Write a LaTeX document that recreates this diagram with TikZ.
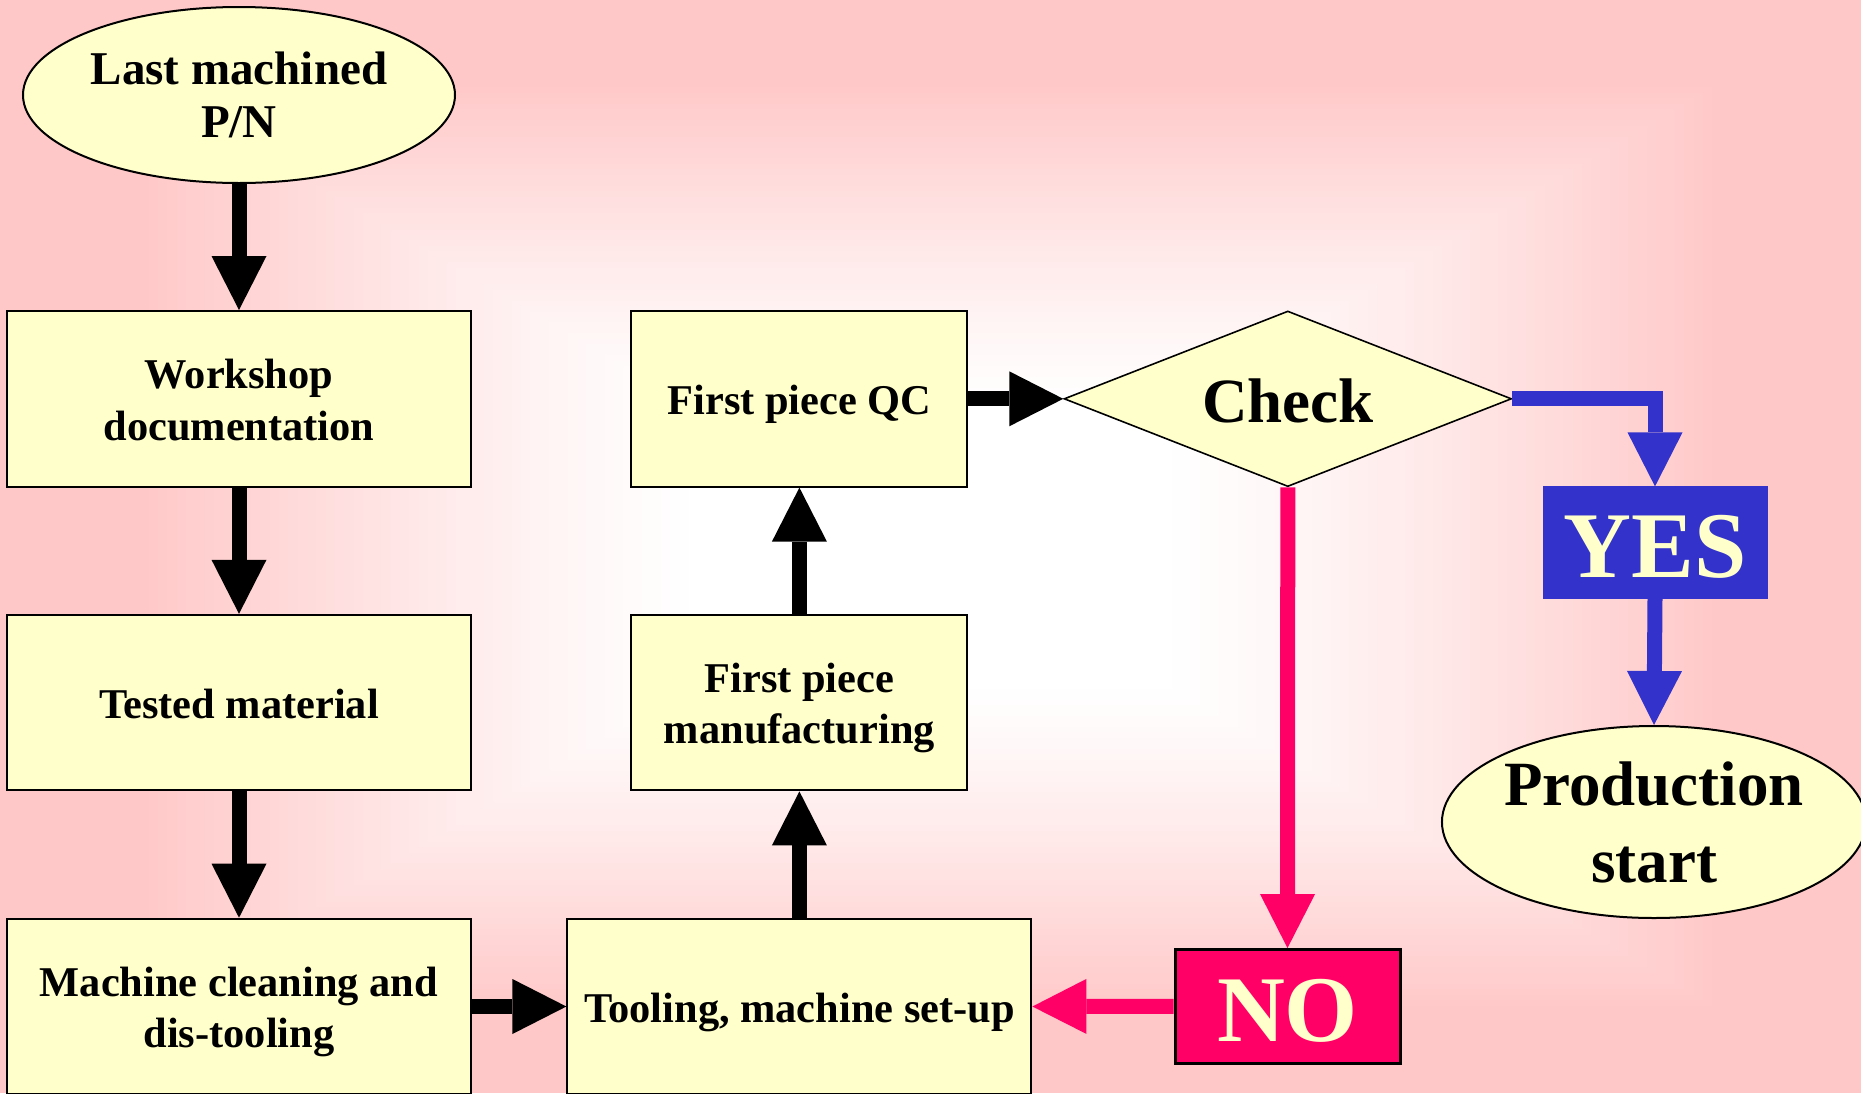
\documentclass[tikz,border=0pt]{standalone}
\usepackage{fontspec}
\setmainfont{Liberation Serif}
\usetikzlibrary{arrows.meta,shapes.geometric}
\definecolor{cream}{HTML}{FFFFCC}
\definecolor{bgp}{HTML}{FFC8C8}
\definecolor{hotpink}{HTML}{FF0066}
\definecolor{blu}{HTML}{3333CC}
\newcommand\pst{\rule[-0.22em]{0pt}{1.18em}}
\begin{document}
\begin{tikzpicture}[x=1pt,y=-1pt,
  box/.style={draw=black, line width=2pt, fill=cream, minimum width=464pt, minimum height=175.6pt,
    inner sep=0pt, align=center, font=\fontsize{42.4}{50}\selectfont\bfseries},
  nbox/.style={box, minimum width=336pt},
  oval/.style={ellipse, draw=black, line width=2pt, fill=cream, inner sep=0pt, align=center},
  tipT/.style={-{Triangle[length=54pt,width=55pt,line width=0pt]}},
  blk/.style={line width=15pt, draw=black, tipT},
  bluarr/.style={line width=15pt, draw=blu, tipT},
  pnkarr/.style={line width=15pt, draw=hotpink, tipT},
]
\useasboundingbox (0,0) rectangle (1861,1093);
\clip (0,0) rectangle (1861,1093);
% background: rectangular "from center" gradient
\fill[white] (0,0) rectangle (1861,1093);
\foreach \i in {0,...,75}{
  \pgfmathsetmacro\t{1-\i/100}
  \pgfmathsetmacro\f{min(1,(\t-0.25)/0.6)}
  \pgfmathsetmacro\p{100*\f*sqrt(sqrt(\f))}
  \fill[bgp!\p!white] ({930.5-930.5*\t},{546.5-546.5*\t}) rectangle ({930.5+930.5*\t},{546.5+546.5*\t});
}
% nodes
\node[oval, minimum width=432pt, minimum height=176pt, font=\fontsize{47}{53}\selectfont\bfseries] (e1) at (239,95) {Last machined\\P/N};
\node[box] (wd) at (239,398.8) {\pst Workshop\\\pst documentation};
\node[box] (tm) at (239,702.6) {\pst Tested material};
\node[box] (mc) at (239,1006.5) {\pst Machine cleaning and\\\pst dis-tooling};
\node[box] (tool) at (799.4,1006.5) {\pst Tooling, machine set-up};
\node[nbox] (fpm) at (799.4,702.6) {\pst First piece\\\pst manufacturing};
\node[nbox] (qc) at (799.4,398.8) {\pst First piece QC};
\node[diamond, draw=black, line width=1.6pt, fill=cream, aspect=2.55, minimum width=447.5pt, minimum height=175.6pt, inner sep=0pt, font=\fontsize{63}{70}\selectfont\bfseries] (chk) at (1287.8,398.8) {\pst Check};
\node[draw=blu, fill=blu, text=cream, minimum width=224pt, minimum height=111.6pt, inner sep=0pt, font=\fontsize{94}{100}\selectfont\bfseries] (yes) at (1655,542.4) {\pst YES};
\node[oval, minimum width=412pt, minimum height=192pt, font=\fontsize{63}{77}\selectfont\bfseries] (e2) at (1654,822) {Production\\start};
\node[draw=black, line width=3pt, fill=hotpink, text=cream, minimum width=225pt, minimum height=113.5pt, inner sep=0pt, font=\fontsize{94}{100}\selectfont\bfseries] (no) at (1287.5,1006.3) {\pst NO};
% connectors
\draw[blk] (e1.south) -- (wd.north);
\draw[blk] (wd.south) -- (tm.north);
\draw[blk] (tm.south) -- (mc.north);
\draw[blk] (mc.east) -- (tool.west);
\draw[blk] (tool.north) -- (fpm.south);
\draw[blk] (fpm.north) -- (qc.south);
\draw[blk] (qc.east) -- (chk.west);
\draw[bluarr] (chk.east) -| (yes.north);
\draw[bluarr] (yes.south) -- (e2.north);
\draw[pnkarr] (chk.south) -- (no.north);
\draw[pnkarr] (no.west) -- (tool.east);
\end{tikzpicture}
\end{document}
